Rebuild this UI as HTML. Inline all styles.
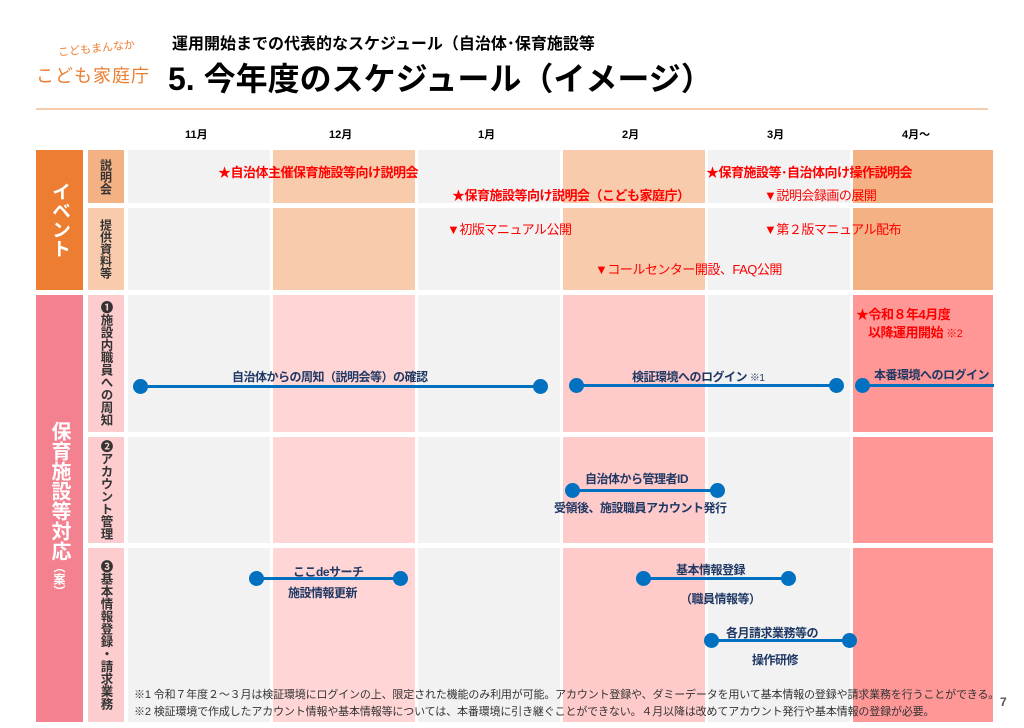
<!DOCTYPE html>
<html><head><meta charset="utf-8"><style>
body{margin:0;width:1024px;height:728px;background:#fff;position:relative;overflow:hidden;font-family:"Liberation Sans","Noto Sans CJK JP",sans-serif}
.a{position:absolute}
.c{position:absolute;white-space:nowrap}
.r{color:#f00;font-size:13px;font-weight:bold;letter-spacing:-0.5px}
.rn{color:#f00;font-size:13px;letter-spacing:-0.5px}
.b{color:#1f3864;font-size:12px;font-weight:bold;letter-spacing:-0.5px}
.v{writing-mode:vertical-rl;text-orientation:upright;font-weight:bold;position:absolute;display:flex;align-items:center;justify-content:center}
.dot{position:absolute;width:15px;height:15px;border-radius:50%;background:#0070c0;margin:-7px 0 0 -7px}
.ln{position:absolute;height:3px;background:#0070c0;margin-top:-1px}
</style></head><body>
<div class="c" style="left:58px;top:40px;color:#ed7d31;font-size:11px;transform:rotate(-6deg)">こどもまんなか</div>
<div class="c" style="left:36px;top:62px;color:#ed7d31;font-size:18px;letter-spacing:1px">こども家庭庁</div>
<div class="c" style="left:172px;top:30px;font-size:16px;font-weight:bold">運用開始までの代表的なスケジュール（自治体･保育施設等</div>
<div class="c" style="left:168px;top:54px;font-size:32px;font-weight:bold">5. 今年度のスケジュール（イメージ）</div>
<div class="a" style="left:36px;top:108px;width:952px;height:2px;background:#f8cbad"></div>
<div class="c" style="left:185px;top:126px;font-size:11px;font-weight:bold">11月</div>
<div class="c" style="left:329px;top:126px;font-size:11px;font-weight:bold">12月</div>
<div class="c" style="left:478px;top:126px;font-size:11px;font-weight:bold">1月</div>
<div class="c" style="left:622px;top:126px;font-size:11px;font-weight:bold">2月</div>
<div class="c" style="left:767px;top:126px;font-size:11px;font-weight:bold">3月</div>
<div class="c" style="left:902px;top:126px;font-size:11px;font-weight:bold">4月～</div>

<div class="v" style="left:36px;top:150px;width:47px;height:140px;background:#ed7d31;color:#fff;font-size:19px">イベント</div>
<div class="v" style="left:88px;top:150px;width:36px;height:53px;background:#f4b183;color:#333;font-size:12px">説明会</div>
<div class="v" style="left:88px;top:208px;width:36px;height:82px;background:#f8cbad;color:#333;font-size:12px">提供資料等</div>
<div class="v" style="left:36px;top:295px;width:47px;height:427px;background:#f4818f;color:#fff;font-size:20px">保育施設等対応<span style="font-size:12px">（案）</span></div>
<div class="v" style="left:88px;top:295px;width:36px;height:137px;background:#fccccf;color:#333;font-size:12.5px">❶施設内職員への周知</div>
<div class="v" style="left:88px;top:437px;width:36px;height:106px;background:#fccccf;color:#333;font-size:12.5px">❷アカウント管理</div>
<div class="v" style="left:88px;top:548px;width:36px;height:174px;background:#fccccf;color:#333;font-size:12.5px">❸基本情報登録・請求業務</div>

<div class="a" style="left:128px;top:150px;width:142px;height:53px;background:#f2f2f2"></div>
<div class="a" style="left:273px;top:150px;width:142px;height:53px;background:#f8cbad"></div>
<div class="a" style="left:418px;top:150px;width:142px;height:53px;background:#f2f2f2"></div>
<div class="a" style="left:563px;top:150px;width:142px;height:53px;background:#f8cbad"></div>
<div class="a" style="left:708px;top:150px;width:142px;height:53px;background:#f2f2f2"></div>
<div class="a" style="left:853px;top:150px;width:140px;height:53px;background:#f4b183"></div>
<div class="a" style="left:128px;top:208px;width:142px;height:82px;background:#f2f2f2"></div>
<div class="a" style="left:273px;top:208px;width:142px;height:82px;background:#f8cbad"></div>
<div class="a" style="left:418px;top:208px;width:142px;height:82px;background:#f2f2f2"></div>
<div class="a" style="left:563px;top:208px;width:142px;height:82px;background:#f8cbad"></div>
<div class="a" style="left:708px;top:208px;width:142px;height:82px;background:#f2f2f2"></div>
<div class="a" style="left:853px;top:208px;width:140px;height:82px;background:#f4b183"></div>

<div class="a" style="left:128px;top:295px;width:142px;height:137px;background:#f2f2f2"></div>
<div class="a" style="left:273px;top:295px;width:142px;height:137px;background:#ffd5d5"></div>
<div class="a" style="left:418px;top:295px;width:142px;height:137px;background:#f2f2f2"></div>
<div class="a" style="left:563px;top:295px;width:142px;height:137px;background:#ffcaca"></div>
<div class="a" style="left:708px;top:295px;width:142px;height:137px;background:#f2f2f2"></div>
<div class="a" style="left:853px;top:295px;width:140px;height:137px;background:#ff9797"></div>
<div class="a" style="left:128px;top:437px;width:142px;height:106px;background:#f2f2f2"></div>
<div class="a" style="left:273px;top:437px;width:142px;height:106px;background:#ffd5d5"></div>
<div class="a" style="left:418px;top:437px;width:142px;height:106px;background:#f2f2f2"></div>
<div class="a" style="left:563px;top:437px;width:142px;height:106px;background:#ffcaca"></div>
<div class="a" style="left:708px;top:437px;width:142px;height:106px;background:#f2f2f2"></div>
<div class="a" style="left:853px;top:437px;width:140px;height:106px;background:#ff9797"></div>
<div class="a" style="left:128px;top:548px;width:142px;height:174px;background:#f2f2f2"></div>
<div class="a" style="left:273px;top:548px;width:142px;height:174px;background:#ffd5d5"></div>
<div class="a" style="left:418px;top:548px;width:142px;height:174px;background:#f2f2f2"></div>
<div class="a" style="left:563px;top:548px;width:142px;height:174px;background:#ffcaca"></div>
<div class="a" style="left:708px;top:548px;width:142px;height:174px;background:#f2f2f2"></div>
<div class="a" style="left:853px;top:548px;width:140px;height:174px;background:#ff9797"></div>

<div class="c r" style="left:218px;top:162px">★自治体主催保育施設等向け説明会</div>
<div class="c r" style="left:706px;top:162px">★保育施設等･自治体向け操作説明会</div>
<div class="c r" style="left:452px;top:185px">★保育施設等向け説明会（こども家庭庁）</div>
<div class="c rn" style="left:764px;top:185px">▼説明会録画の展開</div>
<div class="c rn" style="left:447px;top:219px">▼初版マニュアル公開</div>
<div class="c rn" style="left:764px;top:219px">▼第２版マニュアル配布</div>
<div class="c rn" style="left:595px;top:259px">▼コールセンター開設、FAQ公開</div>
<div class="c r" style="left:856px;top:304px">★令和８年4月度</div>
<div class="c r" style="left:868px;top:322px">以降運用開始 <span style="font-weight:normal;font-size:11px">※2</span></div>

<div class="ln" style="left:140px;top:386px;width:400px"></div>
<div class="dot" style="left:140px;top:386px"></div><div class="dot" style="left:540px;top:386px"></div>
<div class="c b" style="left:232px;top:368px">自治体からの周知（説明会等）の確認</div>
<div class="ln" style="left:576px;top:385px;width:260px"></div>
<div class="dot" style="left:576px;top:385px"></div><div class="dot" style="left:836px;top:385px"></div>
<div class="c b" style="left:632px;top:368px">検証環境へのログイン <span style="font-weight:normal;font-size:10px">※1</span></div>
<div class="ln" style="left:862px;top:385px;width:132px"></div>
<div class="dot" style="left:862px;top:385px"></div>
<div class="c b" style="left:874px;top:366px">本番環境へのログイン</div>

<div class="ln" style="left:572px;top:490px;width:145px"></div>
<div class="dot" style="left:572px;top:490px"></div><div class="dot" style="left:717px;top:490px"></div>
<div class="c b" style="left:585px;top:470px">自治体から管理者ID</div>
<div class="c b" style="left:554px;top:499px">受領後、施設職員アカウント発行</div>

<div class="ln" style="left:256px;top:578px;width:144px"></div>
<div class="dot" style="left:256px;top:578px"></div><div class="dot" style="left:400px;top:578px"></div>
<div class="c b" style="left:293px;top:563px">ここdeサーチ</div>
<div class="c b" style="left:288px;top:584px">施設情報更新</div>

<div class="ln" style="left:643px;top:578px;width:145px"></div>
<div class="dot" style="left:643px;top:578px"></div><div class="dot" style="left:788px;top:578px"></div>
<div class="c b" style="left:676px;top:561px">基本情報登録</div>
<div class="c b" style="left:680px;top:590px">（職員情報等）</div>

<div class="ln" style="left:711px;top:640px;width:138px"></div>
<div class="dot" style="left:711px;top:640px"></div><div class="dot" style="left:849px;top:640px"></div>
<div class="c b" style="left:726px;top:624px">各月請求業務等の</div>
<div class="c b" style="left:752px;top:651px">操作研修</div>

<div class="c" style="left:134px;top:686px;font-size:11px;color:#333;letter-spacing:-0.15px">※1 令和７年度２～３月は検証環境にログインの上、限定された機能のみ利用が可能。アカウント登録や、ダミーデータを用いて基本情報の登録や請求業務を行うことができる。</div>
<div class="c" style="left:134px;top:703px;font-size:11px;color:#333;letter-spacing:-0.15px">※2 検証環境で作成したアカウント情報や基本情報等については、本番環境に引き継ぐことができない。４月以降は改めてアカウント発行や基本情報の登録が必要。</div>
<div class="c" style="left:1000px;top:695px;font-size:12px;color:#555;font-weight:bold">7</div>
</body></html>
